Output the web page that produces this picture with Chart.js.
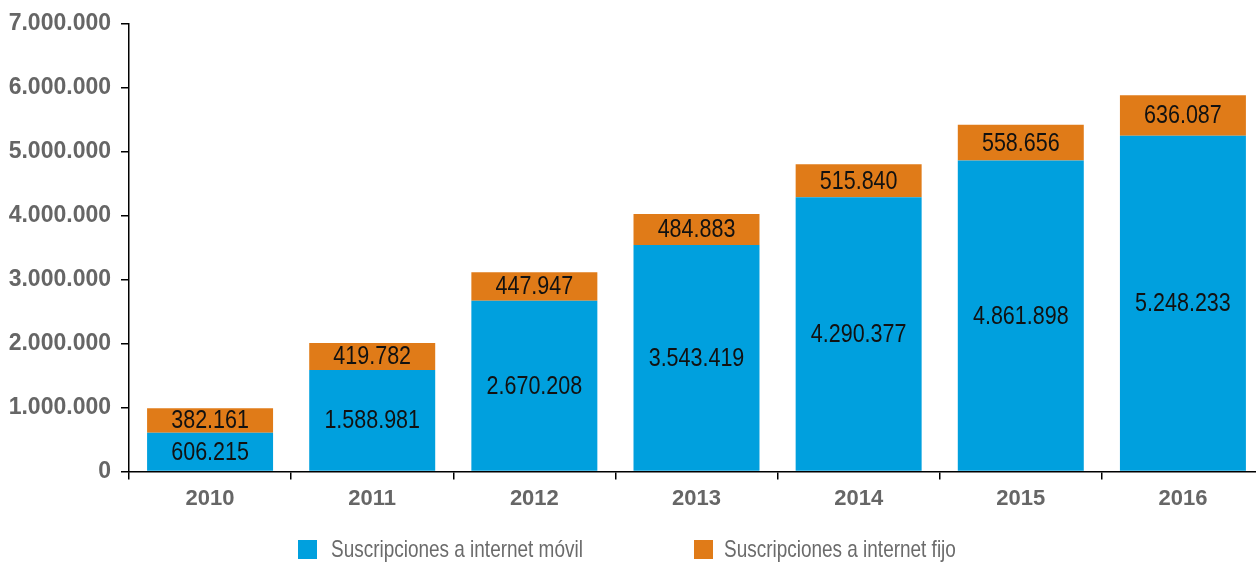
<!DOCTYPE html>
<html>
<head>
<meta charset="utf-8">
<script src="https://cdn.jsdelivr.net/npm/chart.js@4.4.1/dist/chart.umd.min.js"></script>
<style>
  html, body { margin: 0; padding: 0; background: #fff; }
  #wrap { width: 1256px; height: 564px; overflow: hidden; }
</style>
</head>
<body>
<div id="wrap"><canvas id="myChart" width="1272" height="564"></canvas></div>
<script>
// Years and subscriptions per year
const years = ['2010', '2011', '2012', '2013', '2014', '2015', '2016'];
const movil = [606215, 1588981, 2670208, 3543419, 4290377, 4861898, 5248233];
const fijo = [382161, 419782, 447947, 484883, 515840, 558656, 636087];
const yTicks = [0, 1000000, 2000000, 3000000, 4000000, 5000000, 6000000, 7000000];

const FONT = '"Liberation Sans", Arial, sans-serif';
const COLORS = ['#00a0de', '#e07b18'];

// 1234567 -> 1.234.567
function fmt(n) {
    return String(n).replace(/\B(?=(\d{3})+(?!\d))/g, '.');
}

// Draw text squeezed horizontally (narrow look)
function narrowText(ctx, text, x, y, squeeze) {
    ctx.save();
    ctx.translate(x, y);
    ctx.scale(squeeze, 1);
    ctx.fillText(text, 0, 0);
    ctx.restore();
}

// Value labels in the middle of each segment
const barLabels = {
    id: 'barLabels',
    afterDatasetsDraw(chart) {
        const ctx = chart.ctx;
        ctx.save();
        ctx.font = '25px ' + FONT;
        ctx.fillStyle = '#111';
        ctx.textAlign = 'center';
        ctx.textBaseline = 'middle';
        chart.data.datasets.forEach((ds, i) => {
            chart.getDatasetMeta(i).data.forEach((bar, j) => {
                narrowText(ctx, fmt(ds.data[j]), bar.x, (bar.y + bar.base) / 2 + 1, 0.86);
            });
        });
        ctx.restore();
    }
};

// Legend row under the x axis
const bottomLegend = {
    id: 'bottomLegend',
    afterDraw(chart) {
        const ctx = chart.ctx;
        const items = [
            { text: chart.data.datasets[0].label, box: 298, label: 331 },
            { text: chart.data.datasets[1].label, box: 694, label: 724 }
        ];
        ctx.save();
        ctx.font = '24px ' + FONT;
        ctx.textAlign = 'left';
        ctx.textBaseline = 'middle';
        items.forEach((it, i) => {
            ctx.fillStyle = COLORS[i];
            ctx.fillRect(it.box, 540, 19, 19);
            ctx.fillStyle = '#6b6b6b';
            narrowText(ctx, it.text, it.label, 550, 0.79);
        });
        ctx.restore();
    }
};

const ctx = document.getElementById('myChart').getContext('2d');
const myChart = new Chart(ctx, {
    type: 'bar',
    data: {
        labels: years,
        datasets: [{
            label: 'Suscripciones a internet móvil',
            data: movil,
            backgroundColor: COLORS[0],
            borderWidth: 0
        }, {
            label: 'Suscripciones a internet fijo',
            data: fijo,
            backgroundColor: COLORS[1],
            borderWidth: 0
        }]
    },
    options: {
        responsive: false,
        animation: false,
        layout: { padding: { top: 14, right: 8, left: 0, bottom: 46 } },
        datasets: {
            bar: { categoryPercentage: 1, barPercentage: 0.777 }
        },
        plugins: {
            tooltip: { enabled: false },
            legend: { display: false }
        },
        scales: {
            x: {
                stacked: true,
                offset: true,
                border: { color: '#000', width: 1.5 },
                grid: { offset: true, drawOnChartArea: false, tickLength: 8, color: '#000', lineWidth: 1.5 },
                ticks: { color: '#666', padding: 6, font: { family: FONT, size: 22, weight: 'bold' } }
            },
            y: {
                stacked: true,
                min: 0,
                max: 7000000,
                afterFit(scale) { scale.width = 129; },
                afterBuildTicks(scale) { scale.ticks = yTicks.map(v => ({ value: v })); },
                border: { color: '#000', width: 1.5 },
                grid: { drawOnChartArea: false, tickLength: 8, color: '#000', lineWidth: 1.5 },
                ticks: {
                    color: '#666',
                    padding: 10,
                    font: { family: FONT, size: 23, weight: 'bold' },
                    callback: v => fmt(v)
                }
            }
        }
    },
    plugins: [barLabels, bottomLegend]
});
</script>
</body>
</html>
